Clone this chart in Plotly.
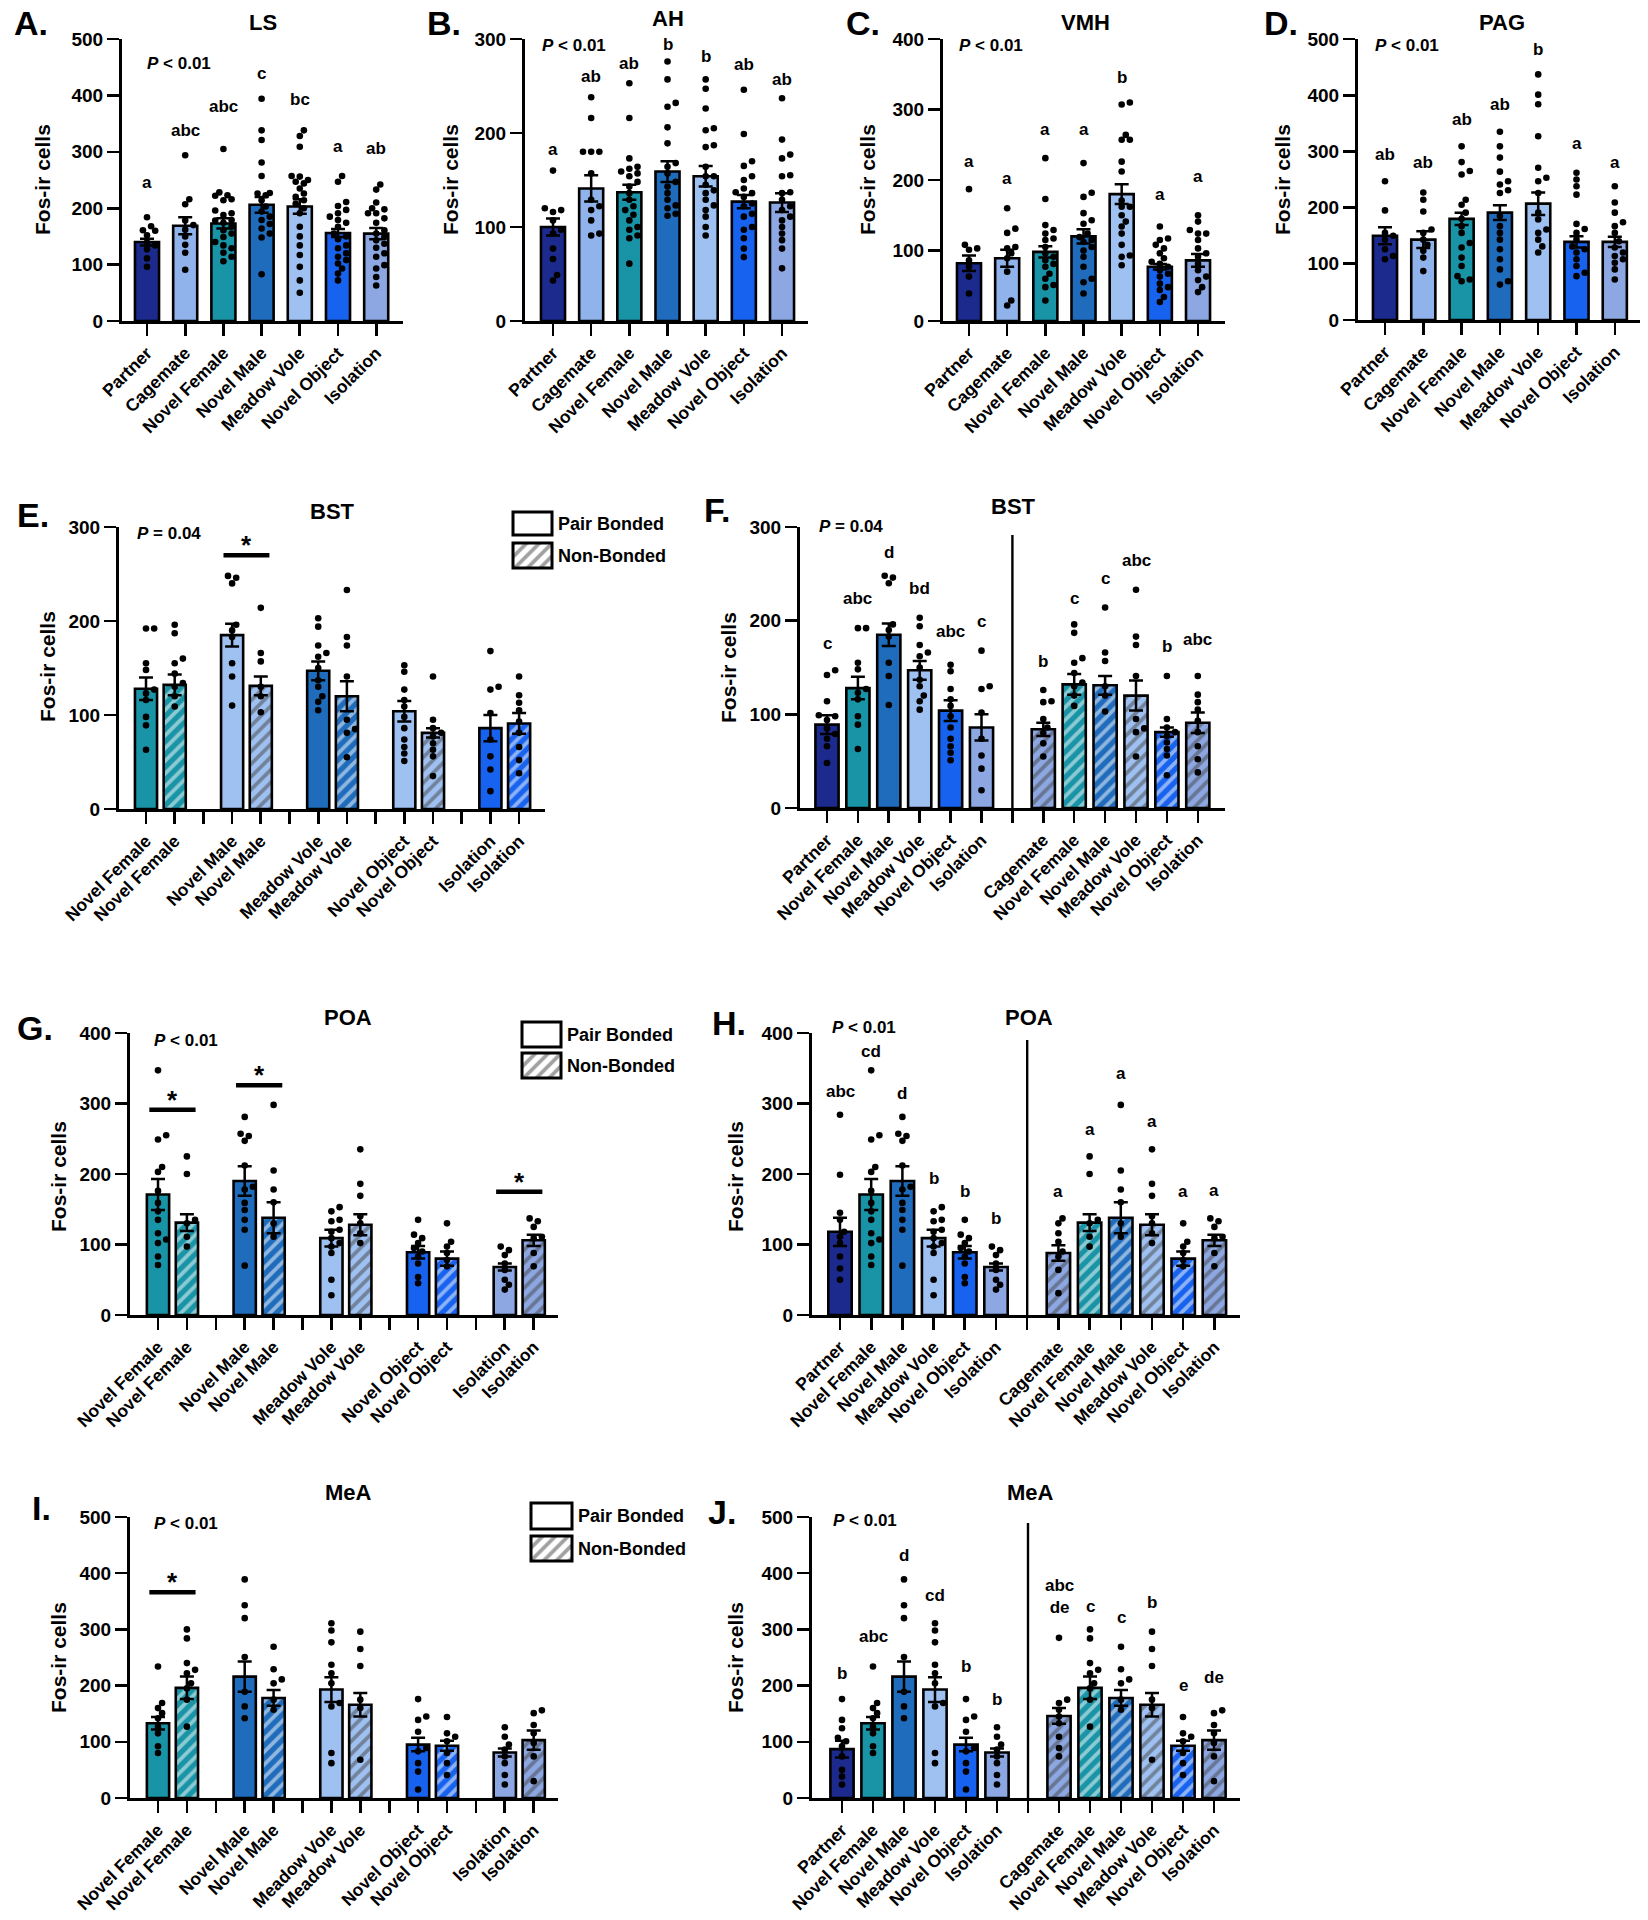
import plotly.graph_objects as go

W, H = 1648, 1920
FONT = "Liberation Sans, Arial, sans-serif"

# ---------------- colours (style) ----------------
NAVY = "#1b2a8c"
TEAL = "#1994a6"
MED = "#1f6cbc"
LIGHT = "#9fc1f1"
CAGE = "#8fb3ea"
BRIGHT = "#1762ee"
PERI = "#8ca7e2"

# ---------------- category labels ----------------
groups7 = ["Partner", "Cagemate", "Novel Female", "Novel Male", "Meadow Vole", "Novel Object", "Isolation"]
pb_groups = ["Partner", "Novel Female", "Novel Male", "Meadow Vole", "Novel Object", "Isolation"]
nb_groups = ["Cagemate", "Novel Female", "Novel Male", "Meadow Vole", "Novel Object", "Isolation"]
pair_groups = ["Novel Female", "Novel Male", "Meadow Vole", "Novel Object", "Isolation"]

# ---------------- LS ----------------
ls_mean = [140, 169, 173, 206, 203, 156, 155]
ls_sem = [6, 15, 9, 14, 13, 7, 10]
ls_pts = [
    [184, 168, 161, 160, 152, 139, 134, 127, 111, 96],
    [294, 216, 207, 178, 170, 162, 150, 135, 121, 91],
    [305, 228, 223, 222, 216, 214, 196, 191, 188, 179, 178, 174, 167, 161, 155, 149, 140, 134, 129, 121, 114, 106],
    [394, 338, 321, 281, 257, 227, 226, 223, 214, 203, 194, 185, 179, 172, 164, 155, 148, 83],
    [338, 328, 309, 257, 256, 250, 247, 244, 235, 226, 220, 214, 208, 200, 191, 167, 150, 134, 117, 96, 72, 50],
    [257, 247, 211, 204, 197, 191, 185, 179, 174, 167, 155, 150, 145, 134, 129, 120, 114, 108, 102, 93, 84, 72],
    [242, 233, 210, 200, 198, 191, 191, 182, 174, 161, 155, 149, 143, 137, 130, 120, 114, 99, 93, 78, 63],
]
ls_letters = ["a", "abc", "abc", "c", "bc", "a", "ab"]
ls_letter_y = [245, 338, 380, 438, 393, 309, 305]

# ---------------- AH ----------------
ah_mean = [100, 141, 137, 159, 154, 127, 126]
ah_sem = [9, 14, 8, 11, 11, 7, 10]
ah_pts = [
    [160, 120, 118, 116, 107, 97, 93, 77, 66, 49, 43],
    [238, 216, 180, 180, 180, 157, 129, 122, 118, 107, 93, 91],
    [253, 216, 173, 164, 162, 159, 157, 154, 148, 143, 136, 129, 122, 118, 113, 107, 100, 97, 91, 88, 61],
    [276, 257, 232, 228, 206, 189, 168, 164, 157, 148, 143, 136, 129, 123, 120, 114, 112],
    [257, 247, 226, 205, 203, 187, 185, 164, 154, 154, 145, 139, 136, 129, 123, 118, 111, 100, 91],
    [246, 199, 170, 165, 154, 150, 141, 137, 136, 132, 125, 122, 114, 111, 100, 97, 88, 77, 68],
    [237, 193, 177, 173, 155, 154, 137, 136, 129, 122, 118, 111, 107, 100, 93, 86, 77, 56],
]
ah_letters = ["a", "ab", "ab", "b", "b", "ab", "ab"]
ah_letter_y = [182, 260, 274, 294, 281, 273, 257]

# ---------------- VMH ----------------
vmh_mean = [82, 89, 98, 120, 180, 77, 86]
vmh_sem = [11, 12, 8, 10, 14, 4, 9]
vmh_pts = [
    [187, 108, 103, 101, 86, 77, 63, 39],
    [160, 131, 125, 105, 103, 96, 89, 70, 29, 22],
    [231, 173, 136, 129, 124, 117, 115, 105, 96, 91, 86, 81, 77, 67, 60, 51, 48, 29],
    [224, 182, 176, 153, 143, 138, 124, 119, 115, 112, 105, 100, 91, 77, 60, 55, 39],
    [310, 307, 264, 257, 257, 226, 212, 171, 162, 162, 150, 141, 134, 124, 108, 93, 91, 79],
    [134, 117, 115, 108, 103, 96, 89, 84, 81, 77, 72, 67, 63, 53, 48, 44, 34, 27],
    [150, 141, 129, 124, 124, 115, 103, 96, 91, 81, 72, 63, 58, 48, 41],
]
vmh_letters = ["a", "a", "a", "a", "b", "a", "a"]
vmh_letter_y = [226, 202, 271, 271, 346, 180, 205]

# ---------------- PAG ----------------
pag_mean = [150, 143, 180, 191, 207, 139, 139]
pag_sem = [15, 15, 11, 13, 20, 10, 9]
pag_pts = [
    [247, 195, 155, 150, 143, 126, 114, 108],
    [227, 214, 193, 161, 155, 143, 134, 123, 111, 87],
    [309, 281, 265, 259, 214, 205, 191, 180, 167, 155, 137, 129, 111, 96, 78, 72, 69],
    [335, 309, 289, 264, 247, 241, 231, 226, 185, 167, 155, 143, 126, 108, 90, 69, 63],
    [437, 401, 384, 327, 271, 253, 247, 226, 191, 179, 161, 155, 143, 131, 120],
    [262, 250, 238, 223, 171, 162, 155, 143, 131, 126, 120, 108, 96, 84, 78],
    [238, 209, 191, 174, 167, 155, 140, 129, 120, 114, 108, 102, 90, 72],
]
pag_letters = ["ab", "ab", "ab", "ab", "b", "a", "a"]
pag_letter_y = [294, 281, 357, 384, 482, 314, 281]

# ---------------- BST (pair bonded: Partner..Isolation ; non-bonded: Cagemate..Isolation) ----------------
bst_pb_mean = [89, 128, 185, 147, 104, 86]
bst_pb_sem = [10, 12, 12, 10, 11, 14]
bst_nb_mean = [84, 132, 131, 120, 81, 91]
bst_nb_sem = [7, 11, 10, 16, 5, 11]
bst_pb_pts = [
    [147, 142, 114, 99, 98, 94, 85, 79, 74, 66, 48],
    [192, 192, 155, 148, 127, 123, 116, 98, 89, 63],
    [248, 246, 240, 196, 190, 183, 155, 141, 110],
    [203, 194, 174, 166, 162, 150, 137, 130, 120, 114, 105],
    [153, 146, 127, 116, 109, 98, 86, 74, 66, 59, 51],
    [168, 130, 127, 102, 74, 56, 42, 19],
]
bst_nb_pts = [
    [126, 114, 113, 95, 86, 80, 69, 55],
    [196, 187, 160, 155, 144, 134, 130, 120, 109],
    [214, 166, 157, 130, 120, 103],
    [233, 183, 174, 141, 95, 85, 81, 55],
    [141, 95, 86, 81, 77, 70, 63, 56, 35],
    [141, 121, 113, 105, 93, 81, 66, 52, 38],
]
bst_pair_sig = [1]            # Novel Male
bst_sig_line = [270]
bst_sig_star = [286]
bst_pb_letters = ["c", "abc", "d", "bd", "abc", "c"]
bst_pb_letter_y = [176, 224, 273, 234, 188, 199]
bst_nb_letters = ["b", "c", "c", "abc", "b", "abc"]
bst_nb_letter_y = [156, 224, 245, 264, 172, 180]

# ---------------- POA ----------------
poa_pb_mean = [118, 171, 190, 109, 89, 68]
poa_pb_sem = [20, 22, 21, 12, 9, 5]
poa_nb_mean = [88, 131, 138, 128, 80, 106]
poa_nb_sem = [11, 12, 22, 15, 10, 8]
poa_pb_pts = [
    [284, 199, 145, 135, 118, 111, 102, 83, 66, 50],
    [347, 255, 249, 210, 203, 176, 159, 147, 135, 116, 107, 102, 83, 71],
    [281, 257, 254, 247, 212, 182, 178, 159, 149, 135, 121, 70],
    [153, 147, 135, 133, 121, 118, 109, 102, 97, 88, 50, 28],
    [135, 114, 109, 102, 95, 90, 83, 73, 54, 45],
    [97, 92, 85, 73, 64, 50, 43, 36],
]
poa_nb_pts = [
    [137, 130, 116, 104, 90, 83, 64, 31],
    [225, 200, 135, 130, 111, 97],
    [298, 205, 178, 160, 130, 111],
    [235, 186, 169, 140, 130, 116, 102],
    [130, 104, 97, 88, 78, 69],
    [137, 133, 125, 111, 109, 88, 69],
]
poa_pair_sig = [0, 1, 4]
poa_sig_line = [291, 326, 175]
poa_sig_star = [312, 348, 196]
poa_pb_letters = ["abc", "cd", "d", "b", "b", "b"]
poa_pb_letter_y = [317, 374, 314, 194, 175, 137]
poa_nb_letters = ["a", "a", "a", "a", "a", "a"]
poa_nb_letter_y = [175, 263, 343, 275, 175, 177]

# ---------------- MeA ----------------
mea_pb_mean = [87, 133, 216, 193, 95, 81]
mea_pb_sem = [15, 11, 27, 22, 12, 7]
mea_nb_mean = [146, 196, 178, 166, 93, 103]
mea_nb_sem = [14, 20, 14, 21, 9, 17]
mea_pb_pts = [
    [176, 139, 124, 107, 101, 92, 74, 50, 38, 24],
    [234, 169, 160, 151, 142, 127, 115, 92, 80],
    [389, 343, 320, 251, 189, 163, 142],
    [311, 298, 277, 237, 222, 204, 169, 163, 80, 62],
    [176, 145, 139, 118, 89, 83, 62, 47, 15],
    [126, 109, 95, 86, 74, 62, 41, 24],
]
mea_nb_pts = [
    [285, 175, 169, 157, 145, 133, 109, 89, 74],
    [300, 284, 240, 228, 222, 204, 195, 175, 127],
    [269, 229, 211, 204, 175, 157],
    [296, 265, 235, 175, 160, 68],
    [144, 115, 109, 101, 80, 62, 41],
    [156, 151, 130, 115, 98, 74, 30],
]
mea_pair_sig = [0]
mea_sig_line = [366]
mea_sig_star = [393]
mea_pb_letters = ["b", "abc", "d", "cd", "b", "b"]
mea_pb_letter_y = [222, 287, 432, 361, 234, 175]
mea_nb_letters = ["abc<br>de", "c", "c", "b", "e", "de"]
mea_nb_letter_y = [359, 340, 322, 347, 201, 215]

# ============================================================
fig = go.Figure()
axes = {}
annotations = []
shapes = []

HATCH = dict(fgcolor="black", size=9, solidity=0.42, fillmode="overlay")


def axkey(n, kind):
    return f"{kind}axis" + ("" if n == 1 else str(n))


def ref(n, kind):
    return kind + ("" if n == 1 else str(n))


def swarm(vals, ppu_y, halfw, d=6.6):
    order = sorted(range(len(vals)), key=lambda i: vals[i])
    placed = []
    offs = [0.0] * len(vals)
    step = d * 0.62
    kmax = max(0, int(halfw // step))
    cands = [0.0]
    for k in range(1, kmax + 1):
        cands += [k * step, -k * step]
    for i in order:
        yp = vals[i] * ppu_y
        best = None
        bestc, bestov = 0.0, 1e9
        for c in cands:
            ov = 0.0
            for (xq, yq) in placed:
                d2 = (c - xq) ** 2 + (yp - yq) ** 2
                if d2 < (d * 0.95) ** 2:
                    ov += (d * 0.95) ** 2 - d2
            if ov == 0:
                best = c
                break
            if ov < bestov:
                bestov, bestc = ov, c
        if best is None:
            best = bestc
        placed.append((best, yp))
        offs[i] = best
    return offs


def px_x(p):
    return p / W


def px_y(p):
    return 1 - p / H


def panel(n, geo, positions, means, sems, pts, colors, hatched, tickvals, ticktext,
          ymax, dtick, barw):
    ax, axe, p0, sp, yt, yb = geo
    ppu_y = (yb - yt) / ymax
    fig.add_trace(go.Bar(
        x=positions, y=means, width=barw,
        marker=dict(color=colors, line=dict(color="black", width=2.6),
                    pattern=dict(shape=["/" if h else "" for h in hatched],
                                 bgcolor=colors, **HATCH)),
        error_y=dict(type="data", array=sems, visible=True, color="black",
                     thickness=2.5, width=7),
        xaxis=ref(n, "x"), yaxis=ref(n, "y"), showlegend=False, hoverinfo="skip"))
    xs, ys = [], []
    for p, vals in zip(positions, pts):
        offs = swarm(vals, ppu_y, barw * sp / 2 - 2)
        xs += [p + o / sp for o in offs]
        ys += list(vals)
    fig.add_trace(go.Scatter(
        x=xs, y=ys, mode="markers", marker=dict(color="black", size=6.6, line=dict(width=0)),
        cliponaxis=False, xaxis=ref(n, "x"), yaxis=ref(n, "y"),
        showlegend=False, hoverinfo="skip"))
    axes[axkey(n, "x")] = dict(
        domain=[ax / W, axe / W], range=[(ax - p0) / sp, (axe - p0) / sp],
        anchor=ref(n, "y"), tickmode="array", tickvals=tickvals, ticktext=ticktext,
        tickangle=-45, ticks="outside", ticklen=12, tickwidth=2.6, tickcolor="black",
        showline=True, linewidth=3, linecolor="black", showgrid=False, zeroline=False,
        automargin=False,
        tickfont=dict(family=FONT, size=17.5, color="black", weight="bold"), fixedrange=True)
    axes[axkey(n, "y")] = dict(
        domain=[1 - yb / H, 1 - yt / H], range=[0, ymax], anchor=ref(n, "x"),
        tickmode="linear", tick0=0, dtick=dtick, ticks="outside", ticklen=12,
        tickwidth=2.6, tickcolor="black", showline=True, linewidth=3, linecolor="black",
        showgrid=False, zeroline=False, automargin=False,
        tickfont=dict(family=FONT, size=19, color="black", weight="bold"), fixedrange=True)


def text_px(x, y, txt, size, xanchor="center", angle=0):
    annotations.append(dict(x=px_x(x), y=px_y(y), xref="paper", yref="paper",
                            text=txt, showarrow=False, xanchor=xanchor, yanchor="middle",
                            textangle=angle, font=dict(family=FONT, size=size, color="black")))


def letters(n, positions, labs, ys):
    for p, t, y in zip(positions, labs, ys):
        annotations.append(dict(x=p, y=y, xref=ref(n, "x"), yref=ref(n, "y"),
                                text="<b>" + t + "</b>", showarrow=False,
                                xanchor="center", yanchor="middle",
                                font=dict(family=FONT, size=17, color="black")))


def sig(n, pos, line_y, star_y):
    shapes.append(dict(type="line", xref=ref(n, "x"), yref=ref(n, "y"),
                       x0=pos - 0.3, x1=pos + 1.3, y0=line_y, y1=line_y,
                       line=dict(color="black", width=4.5)))
    annotations.append(dict(x=pos + 0.5, y=star_y, xref=ref(n, "x"), yref=ref(n, "y"),
                            text="<b>*</b>", showarrow=False, xanchor="center",
                            yanchor="middle", yshift=-5,
                            font=dict(family=FONT, size=26, color="black")))


def decorations(label, lab_xy, title, title_xy, ptxt, p_xy, ytitle_xy):
    text_px(lab_xy[0], lab_xy[1], "<b>" + label + "</b>", 34, xanchor="left")
    text_px(title_xy[0], title_xy[1], "<b>" + title + "</b>", 22)
    text_px(p_xy[0], p_xy[1], "<b><i>P</i> " + ptxt + "</b>", 17, xanchor="left")
    text_px(ytitle_xy[0], ytitle_xy[1], "<b>Fos-ir cells</b>", 21, angle=-90)


# ---------------- Row 1 ----------------
pos7 = list(range(7))
cols7 = [NAVY, CAGE, TEAL, MED, LIGHT, BRIGHT, PERI]
hatch7 = [False] * 7
row1 = [
    (1, (122, 403, 147, 38.2, 39, 321), ls_mean, ls_sem, ls_pts, 500, 100, ls_letters, ls_letter_y,
     "A.", (12, 23), "LS", (263, 22), "&lt; 0.01", (145, 63), (42, 180)),
    (2, (525, 808, 553, 38.17, 39, 321), ah_mean, ah_sem, ah_pts, 300, 100, ah_letters, ah_letter_y,
     "B.", (425, 23), "AH", (668, 18), "&lt; 0.01", (540, 45), (450, 180)),
    (3, (943, 1225, 969, 38.17, 39, 321), vmh_mean, vmh_sem, vmh_pts, 400, 100, vmh_letters, vmh_letter_y,
     "C.", (844, 23), "VMH", (1085, 22), "&lt; 0.01", (957, 45), (867, 180)),
    (4, (1358, 1640, 1385, 38.3, 39, 320), pag_mean, pag_sem, pag_pts, 500, 100, pag_letters, pag_letter_y,
     "D.", (1262, 23), "PAG", (1502, 22), "&lt; 0.01", (1373, 45), (1282, 180)),
]
for (n, geo, m, s, p, ymax, dt, labs, ly, L, Lxy, T, Txy, P, Pxy, Yxy) in row1:
    panel(n, geo, pos7, m, s, p, cols7, hatch7, pos7, groups7, ymax, dt, 0.63)
    letters(n, pos7, labs, ly)
    decorations(L, Lxy, T, Txy, P, Pxy, Yxy)

# ---------------- paired panels (E, G, I) ----------------
pair_pos = [0, 1, 3, 4, 6, 7, 9, 10, 12, 13]
pair_ticks = list(range(14))
pair_text = []
for g in pair_groups:
    pair_text += [g, g, ""]
pair_text = pair_text[:14]
pair_hatch = [False, True] * 5


def interleave(a, b):
    out = []
    for x, y in zip(a[1:], b[1:]):
        out += [x, y]
    return out


E_cols_base = [TEAL, LIGHT, MED, LIGHT, BRIGHT]
GI_cols_base = [TEAL, MED, LIGHT, BRIGHT, PERI]
paired = [
    (5, (119, 545, 146, 28.7, 527, 809), bst_pb_mean, bst_pb_sem, bst_pb_pts, bst_nb_mean, bst_nb_sem,
     bst_nb_pts, 300, 100, E_cols_base, bst_pair_sig, bst_sig_line, bst_sig_star,
     "E.", (15, 515), "BST", (332, 512), "= 0.04", (135, 533), (47, 667),
     (513, 552, 512, 535, 543, 568, 556)),
    (7, (130, 558, 158, 28.9, 1033, 1315), poa_pb_mean, poa_pb_sem, poa_pb_pts, poa_nb_mean, poa_nb_sem,
     poa_nb_pts, 400, 100, GI_cols_base, poa_pair_sig, poa_sig_line, poa_sig_star,
     "G.", (15, 1028), "POA", (348, 1018), "&lt; 0.01", (152, 1040), (58, 1177),
     (522, 561, 1022, 1047, 1053, 1078, 565)),
    (9, (130, 558, 158, 28.9, 1517, 1798), mea_pb_mean, mea_pb_sem, mea_pb_pts, mea_nb_mean, mea_nb_sem,
     mea_nb_pts, 500, 100, GI_cols_base, mea_pair_sig, mea_sig_line, mea_sig_star,
     "I.", (30, 1508), "MeA", (348, 1492), "&lt; 0.01", (152, 1523), (58, 1658),
     (531, 572, 1503, 1529, 1536, 1561, 576)),
]
leg_n = 11
for (n, geo, pbm, pbs, pbp, nbm, nbs, nbp, ymax, dt, cbase, sigs, sl, ss,
     L, Lxy, T, Txy, P, Pxy, Yxy, leg) in paired:
    cols = []
    for c in cbase:
        cols += [c, c]
    panel(n, geo, pair_pos, interleave(pbm, nbm), interleave(pbs, nbs), interleave(pbp, nbp),
          cols, pair_hatch, pair_ticks, pair_text, ymax, dt, 0.77)
    for gi, lyv, syv in zip(sigs, sl, ss):
        sig(n, pair_pos[2 * gi], lyv, syv)
    decorations(L, Lxy, T, Txy, P, Pxy, Yxy)
    # legend swatches drawn as bars in a tiny axis
    bl, br, pbt, pbb, nbt, nbb, tx = leg
    pad = 3
    bw = br - bl
    fig.add_trace(go.Bar(
        x=[bw / 2, bw / 2], y=[nbb - nbt, pbb - pbt], base=[0, nbb - pbb], width=bw,
        marker=dict(color=["white", "white"], line=dict(color="black", width=3),
                    pattern=dict(shape=["/", ""], bgcolor="white", **HATCH)),
        xaxis=ref(leg_n, "x"), yaxis=ref(leg_n, "y"), showlegend=False, hoverinfo="skip"))
    axes[axkey(leg_n, "x")] = dict(domain=[(bl - pad) / W, (br + pad) / W], range=[-pad, bw + pad],
                                   visible=False, fixedrange=True, automargin=False,
                                   anchor=ref(leg_n, "y"))
    axes[axkey(leg_n, "y")] = dict(domain=[1 - (nbb + pad) / H, 1 - (pbt - pad) / H],
                                   range=[-pad, nbb - pbt + pad], visible=False, fixedrange=True,
                                   automargin=False, anchor=ref(leg_n, "x"))
    text_px(tx, (pbt + pbb) / 2, "<b>Pair Bonded</b>", 18, xanchor="left")
    text_px(tx, (nbt + nbb) / 2, "<b>Non-Bonded</b>", 18, xanchor="left")
    leg_n += 1

# ---------------- split panels (F, H, J) ----------------
split_pos = [0, 1, 2, 3, 4, 5, 7, 8, 9, 10, 11, 12]
split_ticks = list(range(13))
split_text = pb_groups + [""] + nb_groups
split_cols = [NAVY, TEAL, MED, LIGHT, BRIGHT, PERI, PERI, TEAL, MED, LIGHT, BRIGHT, PERI]
split_hatch = [False] * 6 + [True] * 6
split = [
    (6, (800, 1225, 827, 30.9, 527, 808), bst_pb_mean, bst_pb_sem, bst_pb_pts, bst_nb_mean, bst_nb_sem,
     bst_nb_pts, 300, 100, bst_pb_letters + bst_nb_letters, bst_pb_letter_y + bst_nb_letter_y,
     "F.", (702, 510), "BST", (1013, 507), "= 0.04", (817, 527), (728, 668), 535),
    (8, (812, 1240, 840, 31.2, 1033, 1315), poa_pb_mean, poa_pb_sem, poa_pb_pts, poa_nb_mean, poa_nb_sem,
     poa_nb_pts, 400, 100, poa_pb_letters + poa_nb_letters, poa_pb_letter_y + poa_nb_letter_y,
     "H.", (710, 1023), "POA", (1029, 1018), "&lt; 0.01", (830, 1027), (735, 1177), 1040),
    (10, (812, 1240, 842, 31.0, 1517, 1798), mea_pb_mean, mea_pb_sem, mea_pb_pts, mea_nb_mean, mea_nb_sem,
     mea_nb_pts, 500, 100, mea_pb_letters + mea_nb_letters, mea_pb_letter_y + mea_nb_letter_y,
     "J.", (706, 1512), "MeA", (1030, 1492), "&lt; 0.01", (831, 1520), (735, 1658), 1523),
]
for (n, geo, pbm, pbs, pbp, nbm, nbs, nbp, ymax, dt, labs, ly,
     L, Lxy, T, Txy, P, Pxy, Yxy, div_top_px) in split:
    panel(n, geo, split_pos, pbm + nbm, pbs + nbs, pbp + nbp, split_cols, split_hatch,
          split_ticks, split_text, ymax, dt, 0.75)
    letters(n, split_pos, labs, ly)
    decorations(L, Lxy, T, Txy, P, Pxy, Yxy)
    yt, yb = geo[4], geo[5]
    shapes.append(dict(type="line", xref=ref(n, "x"), yref="paper", x0=6, x1=6,
                       y0=px_y(yb), y1=px_y(div_top_px), line=dict(color="black", width=2.4)))

fig.update_layout(
    template="none",
    width=W, height=H, margin=dict(l=0, r=0, t=0, b=0, autoexpand=False),
    paper_bgcolor="white", plot_bgcolor="rgba(0,0,0,0)",
    font=dict(family=FONT, color="black"),
    showlegend=False, barmode="overlay", hovermode=False,
    annotations=annotations, shapes=shapes, **axes)

fig.write_html("out.html", config={"displayModeBar": False, "staticPlot": True},
               post_script="document.body.style.margin='0px';")
